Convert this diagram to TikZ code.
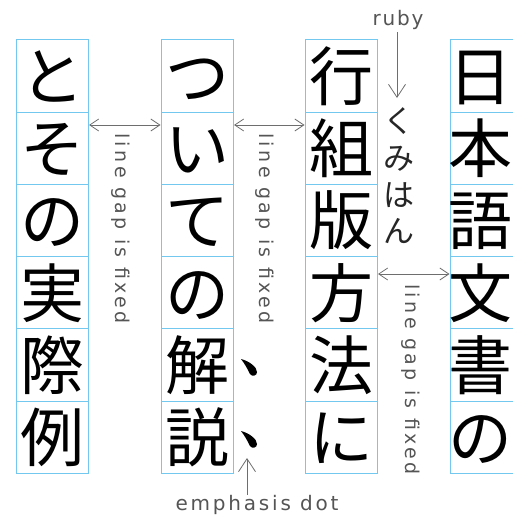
\documentclass[tikz,border=0pt]{standalone}
\usepackage{fontspec}
\setmainfont{DejaVu Sans}
\newfontfamily\jp{Noto Sans CJK JP}
\newfontfamily\labA{DejaVu Sans}[LetterSpace=18]
\newfontfamily\labB{DejaVu Sans}[LetterSpace=9]
\newfontfamily\labC{DejaVu Sans}[LetterSpace=14]
\usetikzlibrary{arrows.meta}
\definecolor{cellblue}{RGB}{115,200,240}
\definecolor{labgray}{RGB}{85,85,85}
\definecolor{arrgray}{RGB}{110,110,110}
\tikzset{
 cell/.style={draw=cellblue, line width=1pt, minimum width=72.5pt, minimum height=72.2pt, inner sep=0pt},
 glyph/.style={font=\jp\fontsize{64}{64}\selectfont, inner sep=0pt, anchor=base},
 rubyglyph/.style={font=\jp\fontsize{31}{31}\selectfont, inner sep=0pt, anchor=base, text=black!85},
 gaplabel/.style={font=\labA\fontsize{19}{19}\selectfont, text=labgray, rotate=-90, anchor=west, inner sep=0pt},
 gaparrow/.style={draw=arrgray, line width=0.8pt, {Straight Barb[length=9pt,width=12pt]}-{Straight Barb[length=9pt,width=12pt]}},
 vertarrow/.style={draw=arrgray, line width=0.8pt, -{Straight Barb[length=13pt,width=17pt]}},
 toplabel/.style={text=labgray, inner sep=0pt, anchor=base},
 sesame/.style={fill=black}
}
\newcommand\jcolumn[4]{%
 \foreach \ch [count=\r] in {#4} {%
   \node[cell] (c#2\r) at (#1,{76.1+(\r-1)*72.2}) {};
   \path (c#2\r.center) ++(#3,24.3) node[glyph] {\ch};
 }}
\begin{document}
\begin{tikzpicture}[x=1pt,y=-1pt]
\clip (0,0) rectangle (513,519);
\fill[white] (0,0) rectangle (513,519);
\jcolumn{52.25}{A}{0}{と,そ,の,実,際,例}
\jcolumn{197.25}{B}{0}{つ,い,て,の,解,説}
\jcolumn{341.25}{C}{0}{行,組,版,方,法,に}
\jcolumn{486.25}{D}{-5.5}{日,本,語,文,書,の}
% line gap arrows
\coordinate (yTop) at (0,125);
\coordinate (yMid) at (0,274);
\draw[gaparrow] (cA2.east |- yTop) -- (cB2.west |- yTop);
\draw[gaparrow] (cB2.east |- yTop) -- (cC2.west |- yTop);
\draw[gaparrow] (cC4.east |- yMid) -- (cD4.west |- yMid);
\node[gaplabel] (gA) at (121,133) {line gap is fixed};
\node[gaplabel] (gB) at (265,133) {line gap is fixed};
\node[gaplabel] (gC) at (411,284) {line gap is fixed};
% ruby
\node[toplabel, font=\labB\fontsize{20}{20}\selectfont] (rubylab) at (398,26) {ruby};
\coordinate (rTip) at (397,98);
\draw[vertarrow, shorten <=2pt] (rubylab.south -| rTip) -- (rTip);
\foreach \ch [count=\r] in {く,み,は,ん}
  \path (399,{121+(\r-1)*36.7}) ++(0,11.8) node[rubyglyph] (ruby\r) {\ch};
% emphasis dots
\foreach \cy in {367,439} {
 \begin{scope}[shift={(249,\cy)}]
  \fill[sesame] (-8,-8) .. controls (0,-6) and (8,0) .. (8,5) .. controls (8,9) and (3,10) .. (1,7) .. controls (-1,3) and (-4,-3) .. cycle;
 \end{scope}
}
\node[toplabel, font=\labC\fontsize{20}{20}\selectfont] (emlab) at (257,510) {emphasis dot};
\coordinate (eTip) at (247,458);
\draw[vertarrow] (emlab.north -| eTip) -- (eTip);
\end{tikzpicture}
\end{document}
